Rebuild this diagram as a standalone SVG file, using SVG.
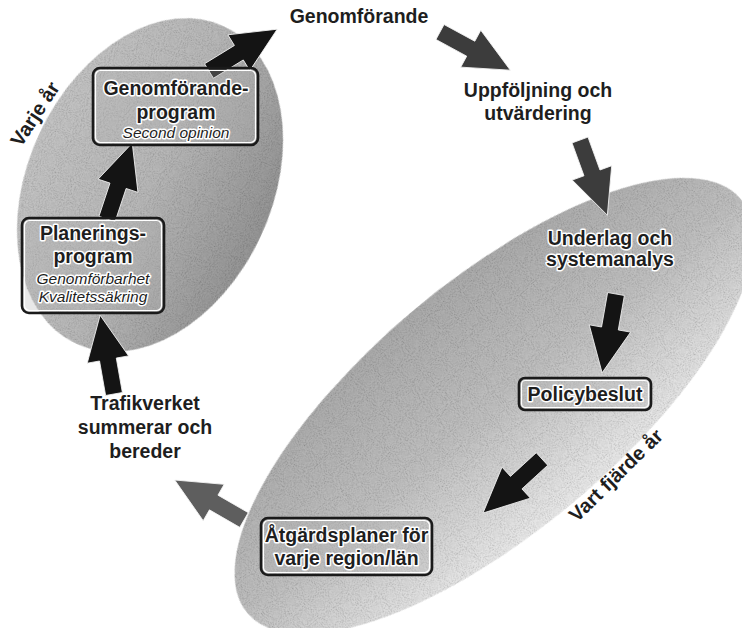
<svg xmlns="http://www.w3.org/2000/svg" width="742" height="628" viewBox="0 0 742 628">
<defs>
<style>
.lbl{font-family:"Liberation Sans",Arial,sans-serif;font-weight:bold;font-size:19.5px;fill:#1e1e1e;text-anchor:middle}
.halo{stroke:#fff;stroke-width:3;stroke-linejoin:round;paint-order:stroke}
.it{font-family:"Liberation Sans",Arial,sans-serif;font-style:italic;font-size:15.5px;fill:#1e1e1e;text-anchor:middle}
.rot{font-family:"Liberation Sans",Arial,sans-serif;font-weight:bold;font-size:20px;fill:#1e1e1e}
.box{fill:#b4b4b4;fill-opacity:0.3;stroke:#1a1a1a;stroke-width:2.6}
.boxin{fill:none;stroke:#fff;stroke-width:1.2}
.arr{stroke:#f4f4f4;stroke-width:0.8}
.dark{fill:#141414}
.mid{fill:#3c3c3c}
.gray{fill:#5e5e5e}
</style>
<linearGradient id="gL" x1="0" y1="0" x2="1" y2="0">
<stop offset="0" stop-color="#c4c4c4"/>
<stop offset="0.5" stop-color="#b8b8b8"/>
<stop offset="1" stop-color="#959595"/>
</linearGradient>
<linearGradient id="gR" x1="0" y1="0" x2="0" y2="1">
<stop offset="0" stop-color="#ababab"/>
<stop offset="0.5" stop-color="#c0c0c0"/>
<stop offset="1" stop-color="#eaeaea"/>
</linearGradient>
<filter id="grain">
<feTurbulence type="fractalNoise" baseFrequency="0.95" numOctaves="1" seed="4" result="n"/>
<feColorMatrix in="n" type="matrix" values="0 0 0 0 0  0 0 0 0 0  0 0 0 0 0  0 0 0 1.1 -0.48" result="a"/>
<feComposite in="a" in2="SourceGraphic" operator="in" result="g"/>
<feMerge><feMergeNode in="SourceGraphic"/><feMergeNode in="g"/></feMerge>
</filter>
<path id="arrow" d="M0,-8.5 H35 V-21 L80,0 L35,21 V8.5 H0 Z"/>
</defs>
<rect width="742" height="628" fill="#fff"/>

<g id="ellipse-left">
<ellipse cx="0" cy="0" rx="122" ry="175" fill="url(#gL)" filter="url(#grain)" transform="translate(150,185) rotate(25)"/>
</g>
<g id="ellipse-right">
<ellipse cx="0" cy="0" rx="322" ry="125" fill="url(#gR)" filter="url(#grain)" transform="translate(494,406) rotate(-40)"/>
</g>

<g id="connectors">
<use href="#arrow" class="arr dark" transform="translate(209,71) rotate(-31.5)"/>
<use href="#arrow" class="arr mid" transform="translate(440,32) rotate(28.5)"/>
<use href="#arrow" class="arr mid" transform="translate(580,140) rotate(70)"/>
<use href="#arrow" class="arr dark" transform="translate(616,294) rotate(100)"/>
<use href="#arrow" class="arr dark" transform="translate(542,459) rotate(137.5)"/>
<use href="#arrow" class="arr gray" transform="translate(244,520) rotate(210)"/>
<use href="#arrow" class="arr dark" transform="translate(114,394) rotate(-100)"/>
<use href="#arrow" class="arr dark" transform="translate(107,219) rotate(-71.6)"/>
</g>

<g id="genomforandeprogram">
<rect class="box" x="93" y="68" width="165" height="77" rx="7"/>
<rect class="boxin" x="95.5" y="70.5" width="160" height="72" rx="5"/>
<text class="lbl halo" x="176" y="95" font-size="20">Genomförande-</text>
<text class="lbl halo" x="176" y="119" font-size="20">program</text>
<text class="it halo" x="176" y="138">Second opinion</text>
</g>

<g id="planeringsprogram">
<rect class="box" x="22" y="218" width="142" height="95" rx="7"/>
<rect class="boxin" x="24.5" y="220.5" width="137" height="90" rx="5"/>
<text class="lbl halo" x="93" y="240" font-size="20">Planerings-</text>
<text class="lbl halo" x="93" y="263" font-size="20">program</text>
<text class="it halo" x="93" y="284">Genomförbarhet</text>
<text class="it halo" x="93" y="302">Kvalitetssäkring</text>
</g>

<g id="genomforande">
<text class="lbl" x="359" y="23">Genomförande</text>
</g>

<g id="uppfoljning">
<text class="lbl" x="538" y="97">Uppföljning och</text>
<text class="lbl" x="538" y="120">utvärdering</text>
</g>

<g id="underlag">
<text class="lbl halo" x="610" y="245">Underlag och</text>
<text class="lbl halo" x="610" y="266">systemanalys</text>
</g>

<g id="policybeslut">
<rect class="box" x="519" y="378" width="132" height="32" rx="6"/>
<rect class="boxin" x="521.5" y="380.5" width="127" height="27" rx="4"/>
<text class="lbl halo" x="585" y="401">Policybeslut</text>
</g>

<g id="atgardsplaner">
<rect class="box" x="261" y="518" width="171" height="57" rx="7"/>
<rect class="boxin" x="263.5" y="520.5" width="166" height="52" rx="5"/>
<text class="lbl halo" x="346.5" y="542">Åtgärdsplaner för</text>
<text class="lbl halo" x="346.5" y="565">varje region/län</text>
</g>

<g id="trafikverket">
<text class="lbl" x="145" y="410">Trafikverket</text>
<text class="lbl" x="145" y="434">summerar och</text>
<text class="lbl" x="145" y="458">bereder</text>
</g>

<g id="labels-period">
<text class="rot" font-size="19.5" transform="translate(21,148) rotate(-57)">Varje år</text>
<text class="rot" font-size="19" transform="translate(577,523) rotate(-44.5)">Vart fjärde år</text>
</g>
</svg>
